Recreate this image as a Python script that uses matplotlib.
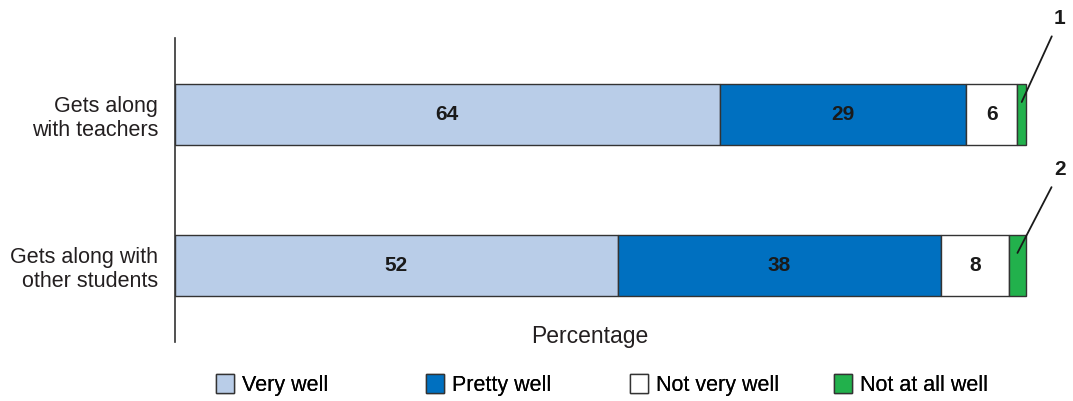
import matplotlib
matplotlib.use("Agg")
import matplotlib.pyplot as plt
from matplotlib.patches import Patch
import numpy as np

plt.rcParams['font.family'] = ['Liberation Sans', 'DejaVu Sans']

categories = ["Gets along\nwith teachers", "Gets along with\nother students"]
series_names = ["Very well", "Pretty well", "Not very well", "Not at all well"]
very_well = [64, 52]
pretty_well = [29, 38]
not_very_well = [6, 8]
not_at_all_well = [1, 2]
colors = ["#B9CDE8", "#0070C0", "#FFFFFF", "#22B14C"]
xlabel = "Percentage"

W, H = 1073, 401
fig = plt.figure(figsize=(W / 100, H / 100), dpi=100)
ax = fig.add_axes([175 / W, (H - 342) / H, 885 / W, 304 / H])

ypos = np.array([1, 0])
series = [very_well, pretty_well, not_very_well, not_at_all_well]
left = np.zeros(len(categories))
for name, vals, col in zip(series_names, series, colors):
    vals = np.array(vals, dtype=float)
    ax.barh(ypos, vals, left=left, height=0.404, color=col,
            edgecolor="#333333", linewidth=1.0)
    for i, v in enumerate(vals):
        if v >= 5:
            ax.text(left[i] + v / 2, ypos[i], f"{int(v)}", ha="center", va="center",
                    fontsize=15, fontweight="bold", color="#1a1a1a")
        else:
            ax.annotate(f"{int(v)}", xy=(left[i] + v / 2, ypos[i] + 0.083),
                        xytext=(38 + 5 * i, 83), textcoords="offset pixels",
                        ha="center", va="center", fontsize=15, fontweight="bold",
                        color="#1a1a1a",
                        arrowprops=dict(arrowstyle="-", color="#1a1a1a", lw=1.3,
                                        shrinkA=4, shrinkB=0))
    left += vals

ax.set_xlim(0, 104)
ax.set_ylim(-0.507, 1.507)
ax.set_yticks(ypos)
ax.set_yticklabels(categories, fontsize=15.5, color="#231f20", linespacing=1.2)
ax.tick_params(axis="y", length=0, pad=12)
ax.set_xticks([])
for s in ["top", "right", "bottom"]:
    ax.spines[s].set_visible(False)
ax.spines["left"].set_color("#333333")
ax.spines["left"].set_linewidth(1.2)

fig.text(590 / W, 1 - 336 / H, xlabel, ha="center", va="center", fontsize=16.5, color="#231f20")

starts = [216, 426, 630, 834]
for name, col, sx in zip(series_names, colors, starts):
    h = Patch(facecolor=col, edgecolor="#333333", linewidth=1.0)
    lg = fig.legend([h], [name], loc="center left",
                    bbox_to_anchor=(sx / W, 1 - 385 / H), frameon=False,
                    fontsize=15.5, handlelength=0.85, handleheight=1.0,
                    handletextpad=0.35, borderaxespad=0, borderpad=0)
    fig.add_artist(lg)

fig.savefig("out.png", dpi=100)
